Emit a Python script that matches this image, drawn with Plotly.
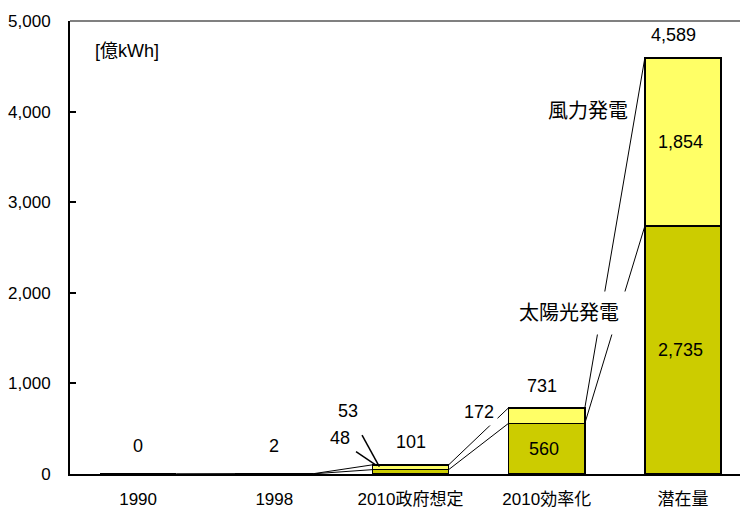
import plotly.graph_objects as go

# 再生可能エネルギー発電量 [億kWh]
categories = ["1990", "1998", "2010政府想定", "2010効率化", "潜在量"]
solar = [0, 1.4, 48, 559.6, 2735]      # 太陽光発電
wind = [0, 0.5, 53, 171.6, 1854]       # 風力発電
series_names = ["太陽光発電", "風力発電"]
y_ticks = [0, 1000, 2000, 3000, 4000, 5000]
unit_label = "[億kWh]"

SOLAR_COLOR = "#CCCC00"
WIND_COLOR = "#FFFF66"
FONT = "Liberation Sans, Arial, Noto Sans CJK JP, sans-serif"
BAR_W = 0.56
LABEL_SIZE = 18
NAME_SIZE = 20

xs = list(range(len(categories)))
totals = [s + w for s, w in zip(solar, wind)]
tops = [solar, totals]


def fmt(v):
    return f"{v:,.0f}"


fig = go.Figure()
fig.add_trace(go.Bar(x=xs, y=solar, width=BAR_W, name=series_names[0],
                     marker=dict(color=SOLAR_COLOR, line=dict(color="black", width=1.5))))
fig.add_trace(go.Bar(x=xs, y=wind, width=BAR_W, name=series_names[1],
                     marker=dict(color=WIND_COLOR, line=dict(color="black", width=1.5))))

# series lines joining the segment tops of neighbouring bars
lx, ly = [], []
for level in tops:
    for i in range(len(xs) - 1):
        lx += [xs[i] + BAR_W / 2, xs[i + 1] - BAR_W / 2, None]
        ly += [level[i], level[i + 1], None]
fig.add_trace(go.Scatter(x=lx, y=ly, mode="lines", line=dict(color="black", width=1),
                         hoverinfo="skip", showlegend=False))

ann = []


def label(text, x, y, xanchor="center", bg=None, pad=1, size=LABEL_SIZE):
    a = dict(text=text, x=x, y=y, xref="x", yref="y", showarrow=False,
             xanchor=xanchor, yanchor="middle", borderpad=pad,
             font=dict(family=FONT, size=size, color="black"))
    if bg:
        a["bgcolor"] = bg
    ann.append(a)


# values inside the large bars
for i in (3, 4):
    label(fmt(solar[i]), xs[i] - 0.02, solar[i] / 2)
label(fmt(wind[4]), xs[4] - 0.02, solar[4] + wind[4] / 2)

# totals above the bars
label(fmt(totals[0]), xs[0], 312)
label(fmt(totals[1]), xs[1], 312)
label(fmt(totals[2]), xs[2], 356)
label(fmt(totals[3]), xs[3] - 0.035, 970)
label(fmt(totals[4]), xs[4] - 0.07, 4841)

# small segments labelled beside the bars
label(fmt(wind[2]), 1.541, 696)
label(fmt(solar[2]), 1.482, 400)
label(fmt(wind[3]), 2.503, 685, bg="white", pad=3)

# series names
label(series_names[1], 3.612, 4008, xanchor="right", size=NAME_SIZE)
label(series_names[0], 3.612, 1782, xanchor="right", bg="white", pad=10, size=NAME_SIZE)

# unit
label(unit_label, -0.078, 4666)

shapes = [
    # leader lines for the 2010政府想定 segments
    dict(type="line", xref="x", yref="y", x0=1.644, y0=430, x1=1.771, y1=82,
         line=dict(color="black", width=1.5)),
    dict(type="line", xref="x", yref="y", x0=1.600, y0=247, x1=1.752, y1=93,
         line=dict(color="black", width=1.5)),
    # upper border of the plot area
    dict(type="line", xref="paper", yref="paper", x0=0, x1=1, y0=1, y1=1,
         line=dict(color="#808080", width=2)),
]

fig.update_layout(
    width=740, height=509,
    margin=dict(l=70, r=0, t=21, b=31),
    barmode="stack",
    showlegend=False,
    plot_bgcolor="white", paper_bgcolor="white",
    font=dict(family=FONT, size=17, color="black"),
    annotations=ann,
    shapes=shapes,
    xaxis=dict(range=[-0.5, 4.419], tickvals=xs, ticktext=categories,
               showline=True, linecolor="black", linewidth=2,
               ticks="", showgrid=False, zeroline=False,
               tickfont=dict(size=17), ticklabelstandoff=9),
    yaxis=dict(range=[0, 5000], tickvals=y_ticks, tickformat=",",
               showline=True, linecolor="black", linewidth=2,
               ticks="inside", ticklen=6, tickwidth=2, tickcolor="black",
               showgrid=False, zeroline=False,
               tickfont=dict(size=17), ticklabelstandoff=14),
)

fig.write_html("out.html")
